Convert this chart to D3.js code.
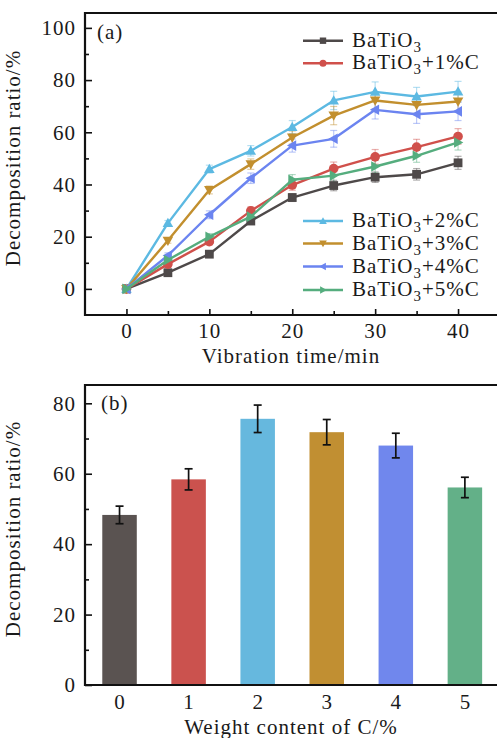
<!DOCTYPE html>
<html>
<head>
<meta charset="utf-8">
<script src="https://cdn.jsdelivr.net/npm/d3@7"></script>
<style>
  html, body { margin: 0; padding: 0; background: #fff; }
  svg { display: block; }
  text { font-family: "Liberation Serif", "DejaVu Serif", serif; fill: #1a1a1a; letter-spacing: 1px; }
</style>
</head>
<body>
<svg id="fig" width="497" height="738"></svg>
<script>
// ---- data: decomposition ratio (%) versus vibration time (min) ----
const times = [0, 5, 10, 15, 20, 25, 30, 35, 40];
const ratioPure = [0, 6.2, 13.3, 26.0, 35.0, 39.6, 42.8, 43.9, 48.3];
const ratioC1   = [0, 9.5, 18.1, 29.9, 39.8, 46.1, 50.6, 54.3, 58.4];
const ratioC2   = [0, 25.2, 45.9, 52.9, 62.0, 72.2, 75.5, 73.7, 75.6];
const ratioC3   = [0, 18.5, 37.9, 47.8, 58.0, 66.4, 72.2, 70.5, 71.8];
const ratioC4   = [0, 12.8, 28.4, 42.4, 54.9, 57.5, 68.6, 66.9, 68.0];
const ratioC5   = [0, 11.1, 20.0, 27.7, 41.8, 43.4, 46.9, 51.0, 56.1];

const errPure = [0, 0.8, 1.0, 1.2, 1.5, 2.0, 2.0, 2.2, 2.5];
const errC1   = [0, 1.0, 1.2, 1.5, 2.0, 2.5, 2.8, 3.0, 3.0];
const errC2   = [0, 1.0, 1.5, 2.0, 2.5, 3.5, 3.8, 3.5, 3.9];
const errC3   = [0, 1.0, 1.5, 2.0, 2.5, 3.5, 3.2, 3.3, 3.6];
const errC4   = [0, 1.0, 1.5, 2.0, 2.5, 3.2, 3.5, 3.5, 3.5];
const errC5   = [0, 1.0, 1.2, 1.5, 2.0, 2.5, 2.5, 2.5, 2.9];

const seriesSuffix = ["", "+1%C", "+2%C", "+3%C", "+4%C", "+5%C"];
const seriesColors = ["#4e4949", "#d0504b", "#5cb9e2", "#c28f2e", "#6b84f0", "#55ad7e"];
const seriesMarkers = ["square", "circle", "up", "down", "left", "right"];

// ---- data: decomposition ratio after 40 min versus carbon content ----
const carbonContent = ["0", "1", "2", "3", "4", "5"];
const barRatio = [48.3, 58.4, 75.6, 71.8, 68.0, 56.1];
const barError = [2.5, 3.0, 3.9, 3.6, 3.5, 2.9];
const barColors = ["#5a5351", "#cb524e", "#66b8de", "#c18f32", "#7087ed", "#63b088"];

// ---- tick values ----
const topYTicks = [0, 20, 40, 60, 80, 100];
const topYMinor = [10, 30, 50, 70, 90];
const topXTicks = [0, 10, 20, 30, 40];
const topXMinor = [5, 15, 25, 35];
const botYTicks = [0, 20, 40, 60, 80];
const botYMinor = [10, 30, 50, 70];

const svg = d3.select("#fig");
const FS = 21;

function axisStyle(g) {
  g.select(".domain").remove();
  g.selectAll(".tick line").attr("stroke", "#111").attr("stroke-width", 1.6);
  g.selectAll(".tick text").style("font-size", FS + "px")
    .style("font-family", "'Liberation Serif', serif").attr("fill", "#1a1a1a");
}

// label "BaTiO3..." with subscript 3
function formula(sel, suffix) {
  sel.append("tspan").text("BaTiO");
  sel.append("tspan").text("3").attr("dy", 5).style("font-size", "15px");
  if (suffix) sel.append("tspan").text(suffix).attr("dy", -5);
}

function markerPath(kind, r) {
  if (kind === "square") return `M${-r},${-r}H${r}V${r}H${-r}Z`;
  if (kind === "circle") return d3.symbol(d3.symbolCircle, Math.PI * r * r * 1.2)();
  const h = r * 1.2;
  if (kind === "up") return `M0,${-h}L${h},${h * 0.75}L${-h},${h * 0.75}Z`;
  if (kind === "down") return `M0,${h}L${h},${-h * 0.75}L${-h},${-h * 0.75}Z`;
  if (kind === "left") return `M${-h},0L${h * 0.75},${-h}L${h * 0.75},${h}Z`;
  return `M${h},0L${-h * 0.75},${-h}L${-h * 0.75},${h}Z`;
}

// ================= panel (a) =================
const A = { left: 85, right: 500, top: 13, bottom: 315 };
const xA = d3.scaleLinear().domain([-5, 45]).range([A.left, A.left + 50 * 8.29]);
const yA = d3.scaleLinear().domain([-10, 105.7]).range([A.bottom, A.top]);

const gA = svg.append("g");

const seriesVals = [ratioPure, ratioC1, ratioC2, ratioC3, ratioC4, ratioC5];
const seriesErr = [errPure, errC1, errC2, errC3, errC4, errC5];

// error bars (light)
seriesVals.forEach((vals, si) => {
  const eg = gA.append("g").attr("stroke", seriesColors[si]).attr("stroke-opacity", 0.45).attr("stroke-width", 1.2);
  times.forEach((t, i) => {
    const e = seriesErr[si][i];
    if (!e) return;
    const cx = xA(t), y1 = yA(vals[i] + e), y2 = yA(vals[i] - e);
    eg.append("line").attr("x1", cx).attr("x2", cx).attr("y1", y1).attr("y2", y2);
    eg.append("line").attr("x1", cx - 3.5).attr("x2", cx + 3.5).attr("y1", y1).attr("y2", y1);
    eg.append("line").attr("x1", cx - 3.5).attr("x2", cx + 3.5).attr("y1", y2).attr("y2", y2);
  });
});

const line = d3.line().x((d, i) => xA(times[i])).y(d => yA(d));
seriesVals.forEach((vals, si) => {
  gA.append("path").datum(vals).attr("d", line)
    .attr("fill", "none").attr("stroke", seriesColors[si]).attr("stroke-width", 2.4)
    .attr("stroke-linejoin", "round");
  gA.selectAll(null).data(vals).enter().append("path")
    .attr("d", markerPath(seriesMarkers[si], 4.4))
    .attr("transform", (d, i) => `translate(${xA(times[i])},${yA(d)})`)
    .attr("fill", seriesColors[si]);
});

// axes
gA.append("g").attr("transform", `translate(${A.left},0)`)
  .call(d3.axisLeft(yA).tickValues(topYTicks).tickSizeInner(-7).tickSizeOuter(0).tickPadding(9))
  .call(axisStyle);
gA.append("g").attr("transform", `translate(${A.left},0)`)
  .call(d3.axisLeft(yA).tickValues(topYMinor).tickSizeInner(-4).tickSizeOuter(0).tickFormat(""))
  .call(axisStyle);
gA.append("g").attr("transform", `translate(0,${A.bottom})`)
  .call(d3.axisBottom(xA).tickValues(topXTicks).tickSizeInner(-6).tickSizeOuter(0).tickPadding(8))
  .call(axisStyle);
gA.append("g").attr("transform", `translate(0,${A.bottom})`)
  .call(d3.axisBottom(xA).tickValues(topXMinor).tickSizeInner(-4).tickSizeOuter(0).tickFormat(""))
  .call(axisStyle);

// frame
gA.append("path").attr("d", `M${A.right},${A.top}H${A.left}V${A.bottom}H${A.right}`)
  .attr("fill", "none").attr("stroke", "#111").attr("stroke-width", 2.2);

gA.append("text").attr("x", 97).attr("y", 39).style("font-size", "21px").text("(a)");

// legends
function legendRow(g, si, x, y) {
  g.append("line").attr("x1", x).attr("x2", x + 40).attr("y1", y).attr("y2", y)
    .attr("stroke", seriesColors[si]).attr("stroke-width", 2.4);
  g.append("path").attr("d", markerPath(seriesMarkers[si], 3.2))
    .attr("transform", `translate(${x + 20},${y})`).attr("fill", seriesColors[si]);
  const t = g.append("text").attr("x", x + 49).attr("y", y + 6).style("font-size", "21px");
  formula(t, seriesSuffix[si]);
}
const legRowsY = [40.7, 63.3, 221, 243.5, 266.5, 290];
seriesVals.forEach((v, si) => legendRow(gA, si, 303, legRowsY[si]));

// axis titles
gA.append("text").attr("transform", `translate(20,${(A.top + A.bottom) / 2 - 6}) rotate(-90)`)
  .attr("text-anchor", "middle").style("font-size", "21px").text("Decomposition ratio/%");
gA.append("text").attr("x", 291).attr("y", 363)
  .attr("text-anchor", "middle").style("font-size", "21px").text("Vibration time/min");

// ================= panel (b) =================
const B = { left: 85, right: 500, top: 385, bottom: 685 };
const xB = d3.scalePoint().domain(carbonContent).range([B.left, B.left + 6 * 69.07]).padding(0.5);
const yB = d3.scaleLinear().domain([0, 85.2]).range([B.bottom, B.top]);
const bw = 34.5;

const gB = svg.append("g");
gB.selectAll("rect.bar").data(barRatio).enter().append("rect")
  .attr("class", "bar")
  .attr("x", (d, i) => xB(carbonContent[i]) - bw / 2)
  .attr("y", d => yB(d))
  .attr("width", bw)
  .attr("height", d => yB(0) - yB(d))
  .attr("fill", (d, i) => barColors[i]);

const eb = gB.append("g").attr("stroke", "#111").attr("stroke-width", 1.7);
barRatio.forEach((v, i) => {
  const cx = xB(carbonContent[i]), y1 = yB(v + barError[i]), y2 = yB(v - barError[i]);
  eb.append("line").attr("x1", cx).attr("x2", cx).attr("y1", y1).attr("y2", y2);
  eb.append("line").attr("x1", cx - 4).attr("x2", cx + 4).attr("y1", y1).attr("y2", y1);
  eb.append("line").attr("x1", cx - 4).attr("x2", cx + 4).attr("y1", y2).attr("y2", y2);
});

gB.append("g").attr("transform", `translate(${B.left},0)`)
  .call(d3.axisLeft(yB).tickValues(botYTicks).tickSizeInner(-7).tickSizeOuter(0).tickPadding(9))
  .call(axisStyle);
gB.append("g").attr("transform", `translate(${B.left},0)`)
  .call(d3.axisLeft(yB).tickValues(botYMinor).tickSizeInner(-4).tickSizeOuter(0).tickFormat(""))
  .call(axisStyle);
gB.append("g").attr("transform", `translate(0,${B.bottom})`)
  .call(d3.axisBottom(xB).tickSizeInner(0).tickSizeOuter(0).tickPadding(9))
  .call(axisStyle);

gB.append("path").attr("d", `M${B.right},${B.top}H${B.left}V${B.bottom}H${B.right}`)
  .attr("fill", "none").attr("stroke", "#111").attr("stroke-width", 2.2);

gB.append("text").attr("x", 101).attr("y", 410).style("font-size", "21px").text("(b)");

gB.append("text").attr("transform", `translate(20,${(B.top + B.bottom) / 2 - 6}) rotate(-90)`)
  .attr("text-anchor", "middle").style("font-size", "21px").text("Decomposition ratio/%");
gB.append("text").attr("x", 291).attr("y", 734)
  .attr("text-anchor", "middle").style("font-size", "21px").text("Weight content of C/%");
</script>
</body>
</html>
